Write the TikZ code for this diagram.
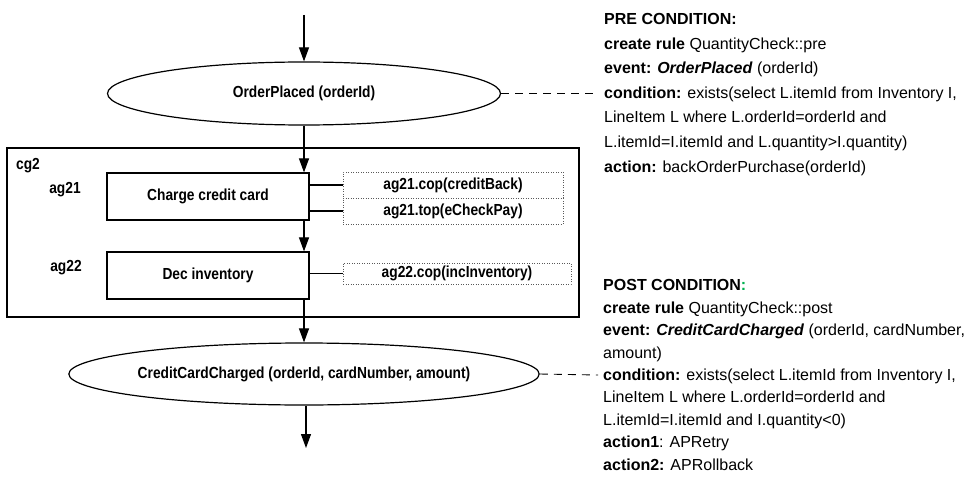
\documentclass[tikz,border=0pt]{standalone}
\usepackage{fontspec}
\setmainfont{Liberation Sans}
\newfontfamily\nfont{Liberation Sans}[FakeStretch=0.86]
\usetikzlibrary{arrows.meta,shapes.geometric,calc}
\definecolor{postgreen}{RGB}{0,176,80}
\begin{document}
\begin{tikzpicture}[x=1pt,y=-1pt,
  nd/.style={font=\nfont\bfseries\fontsize{16}{19}\selectfont, inner sep=0pt},
  evnt/.style={ellipse, draw, line width=1.2pt, nd},
  blk/.style={rectangle, draw, line width=1.2pt, nd},
  dbox/.style={rectangle, draw=black!65, dash pattern=on 1pt off 1.5pt, line width=0.8pt, nd},
  lbl/.style={nd},
  arr/.style={line width=1.1pt, -{Triangle[length=14pt,width=10pt]}},
  cnn/.style={line width=1.1pt},
  dsh/.style={line width=0.9pt, dash pattern=on 8pt off 6pt},
  rt/.style={anchor=base west, inner sep=0pt, font=\fontsize{16}{19}\selectfont}]
\useasboundingbox (0,0) rectangle (968,476);

% container
\node[blk, minimum width=572pt, minimum height=169pt] (cg2) at (293,232.5) {};
\node[lbl] (cg2lbl) at (28,166) {cg2};
\node[lbl] (ag21) at (65,190) {ag21};
\node[lbl] (ag22) at (66,268) {ag22};

% events
\node[evnt, minimum width=393pt, minimum height=63pt] (e1) at (304,93.5) {OrderPlaced (orderId)};
\node[evnt, minimum width=408pt, minimum height=62pt] (e2) at (304,374) {CreditCardCharged (orderId, cardNumber, amount)};

% activities
\node[blk, minimum width=202pt, minimum height=47pt] (charge) at (208,196.5) {Charge credit card};
\node[blk, minimum width=202pt, minimum height=47pt] (dec) at (208,275.5) {Dec inventory};

% compensation boxes
\node[dbox, minimum width=220pt, minimum height=26pt] (cop1) at (453,185) {ag21.cop(creditBack)};
\node[dbox, minimum width=220pt, minimum height=26pt] (top1) at (453,211) {ag21.top(eCheckPay)};
\node[dbox, minimum width=228pt, minimum height=21pt] (cop2) at (457,273.5) {ag22.cop(incInventory)};

% flow
\coordinate (start) at (304,15);
\coordinate (finish) at (306,448);
\draw[arr] (start) -- (e1.north);
\draw[arr] (e1.south) -- (e1.south |- charge.north);
\draw[arr] (e1.south |- charge.south) -- (e1.south |- dec.north);
\draw[arr] (e1.south |- dec.south) -- (e2.north);
\draw[arr] (e2.south -| finish) -- (finish);

% links to compensation boxes
\draw[cnn] (cop1.west -| charge.east) -- (cop1.west);
\draw[cnn] (top1.west -| charge.east) -- (top1.west);
\draw[cnn] (cop2.west -| dec.east) -- (cop2.west);

% dashed links to rules
\coordinate (prec) at (598,93.5);
\coordinate (postc) at (598,375);
\draw[dsh] (e1.east) -- (prec);
\draw[dsh] (e2.east) -- (postc);

% pre condition
\node[rt] (p0) at (604,25) {\textbf{PRE CONDITION:}};
\node[rt] (p1) at (604,49.5) {\textbf{create rule} QuantityCheck::pre};
\node[rt] (p2) at (604,74) {\textbf{event: \textit{OrderPlaced}} (orderId)};
\node[rt] (p3) at (604,98.5) {\textbf{condition:} exists(select L.itemId from Inventory I,};
\node[rt] (p4) at (604,123) {LineItem L where L.orderId=orderId and};
\node[rt] (p5) at (604,147.5) {L.itemId=I.itemId and L.quantity>I.quantity)};
\node[rt] (p6) at (604,172) {\textbf{action:} backOrderPurchase(orderId)};

% post condition
\node[rt] (q0) at (603,290.9) {\textbf{POST CONDITION\textcolor{postgreen}{:}}};
\node[rt] (q1) at (603,313.3) {\textbf{create rule} QuantityCheck::post};
\node[rt] (q2) at (603,335.7) {\textbf{event: \textit{CreditCardCharged}} (orderId, cardNumber,};
\node[rt] (q3) at (603,358.1) {amount)};
\node[rt] (q4) at (603,380.5) {\textbf{condition:} exists(select L.itemId from Inventory I,};
\node[rt] (q5) at (603,402.9) {LineItem L where L.orderId=orderId and};
\node[rt] (q6) at (603,425.3) {L.itemId=I.itemId and I.quantity<0)};
\node[rt] (q7) at (603,447.7) {\textbf{action1}: APRetry};
\node[rt] (q8) at (603,470.1) {\textbf{action2:} APRollback};
\end{tikzpicture}
\end{document}
